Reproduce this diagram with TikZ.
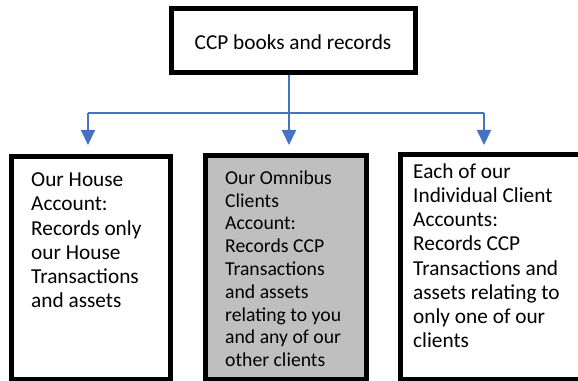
\documentclass[tikz,border=0pt]{standalone}
\usepackage{fontspec}
\setmainfont{Carlito}
\usepackage{xcolor}
\usetikzlibrary{arrows.meta}

\definecolor{linkblue}{RGB}{68,114,196}
\definecolor{omnigrey}{RGB}{191,191,191}
\newcommand{\bodyfont}{\fontsize{21.3}{24.2}\selectfont}
\newcommand{\omnifont}{\fontsize{19.7}{22.8}\selectfont}

\begin{document}
\begin{tikzpicture}
	[x=1pt, y=1pt, >={Triangle[width=14pt,length=15pt]},
	box/.style = {draw, rectangle, line width=5pt, inner sep=0pt},
	txt/.style = {anchor=north west, align=left, inner sep=0pt},
	link/.style = {draw=linkblue, line width=2pt}]
	\useasboundingbox (0,0) rectangle (578,380);
	\clip (0,0) rectangle (578,380);
	\node[box, minimum width=244pt, minimum height=64pt, text height=18pt, text depth=0pt, font=\bodyfont] (top) at (293,339) {CCP books and records};
	\node[box, minimum width=159pt, minimum height=223pt] (house) at (91,112) {};
	\node[box, fill=omnigrey, minimum width=161pt, minimum height=224pt] (omni) at (286,112.5) {};
	\node[box, minimum width=184.5pt, minimum height=224.7pt] (indiv) at (492.75,112.85) {};
	\node[txt, font=\bodyfont] (housetxt) at (31,207.4) {Our House\\Account:\\Records only\\our House\\Transactions\\and assets};
	\node[txt, font=\omnifont] (omnitxt) at (225,209.5) {Our Omnibus\\Clients\\Account:\\Records CCP\\Transactions\\and assets\\relating to you\\and any of our\\other clients};
	\node[txt, font=\bodyfont] (indivtxt) at (413,216.7) {Each of our\\Individual Client\\Accounts:\\Records CCP\\Transactions and\\assets relating to\\only one of our\\clients};
	\coordinate (lb) at (88,266.7);
	\coordinate (jn) at (289,266.7);
	\coordinate (rb) at (484,266.7);
	\draw[link] (top.south -| jn) -- (jn);
	\draw[link] (lb) -- (rb);
	\draw[link, ->, shorten >=9pt] (lb) -- (lb |- house.north);
	\draw[link, ->, shorten >=8pt] (jn) -- (jn |- omni.north);
	\draw[link, ->, shorten >=7.3pt] (rb) -- (rb |- indiv.north);
\end{tikzpicture}
\end{document}
